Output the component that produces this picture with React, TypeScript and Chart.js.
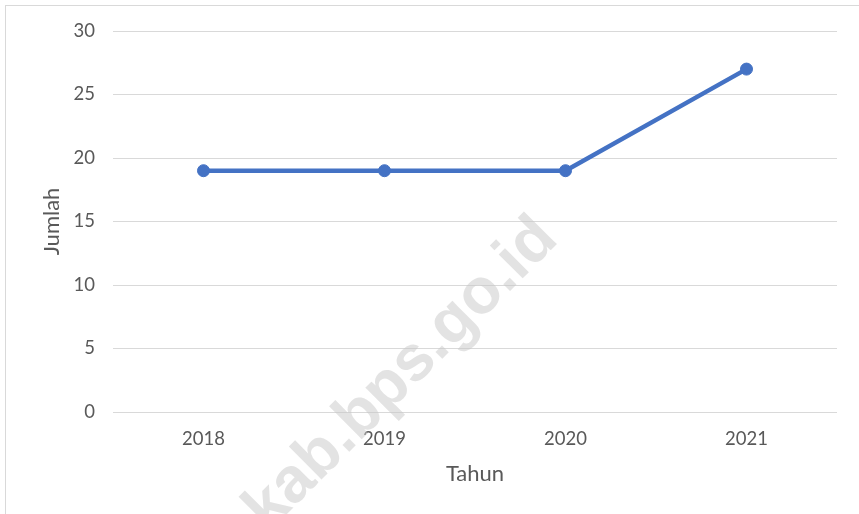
import React, { useEffect, useRef } from "react";
import { Chart, registerables } from "chart.js";

Chart.register(...registerables);

const categories = ["2018", "2019", "2020", "2021"];
const jumlahValues = [19, 19, 19, 27];
const yTicks = [0, 5, 10, 15, 20, 25, 30];
const xTitle = "Tahun";
const yTitle = "Jumlah";
const watermarkText = "kab.bps.go.id";

const FONT = "Lato, 'Open Sans', sans-serif";
const TEXT_COLOR = "#595959";
const GRID_COLOR = "#d9d9d9";
const LINE_COLOR = "#4472C4";

const backgroundPlugin = {
  id: "bgBorder",
  beforeDraw(chart: any) {
    const ctx = chart.ctx;
    ctx.save();
    ctx.fillStyle = "#ffffff";
    ctx.fillRect(0, 0, chart.width, chart.height);
    ctx.strokeStyle = GRID_COLOR;
    ctx.lineWidth = 1;
    ctx.strokeRect(5.5, 5.5, chart.width + 20, chart.height + 20);
    ctx.restore();
  },
};

const watermarkPlugin = {
  id: "watermark",
  beforeDatasetsDraw(chart: any) {
    const ctx = chart.ctx;
    ctx.save();
    ctx.translate(414, 387);
    ctx.rotate(-Math.PI / 4);
    ctx.font = "bold 64px 'Liberation Sans', Arial, sans-serif";
    ctx.fillStyle = "rgba(200,200,200,0.5)";
    ctx.textAlign = "center";
    ctx.textBaseline = "alphabetic";
    ctx.fillText(watermarkText, 0, 0);
    ctx.restore();
  },
};

export default function App() {
  const canvasRef = useRef<HTMLCanvasElement | null>(null);

  useEffect(() => {
    if (!canvasRef.current) return;
    const chart = new Chart(canvasRef.current, {
      type: "line",
      data: {
        labels: categories,
        datasets: [
          {
            label: yTitle,
            data: jumlahValues,
            borderColor: LINE_COLOR,
            backgroundColor: LINE_COLOR,
            borderWidth: 4.5,
            pointRadius: 6,
            pointBorderWidth: 1,
            pointBackgroundColor: LINE_COLOR,
            pointBorderColor: LINE_COLOR,
            tension: 0,
            fill: false,
          },
        ],
      },
      options: {
        animation: false,
        responsive: false,
        devicePixelRatio: 1,
        layout: { padding: { top: 31, right: 22, left: 0, bottom: 0 } },
        plugins: {
          legend: { display: false },
          tooltip: { enabled: false },
        },
        scales: {
          x: {
            offset: true,
            grid: { display: false, drawTicks: false },
            border: { display: false },
            ticks: {
              color: TEXT_COLOR,
              font: { family: FONT, size: 18.5 },
              padding: 16,
            },
            title: {
              display: true,
              text: xTitle,
              color: TEXT_COLOR,
              font: { family: FONT, size: 22 },
              padding: { top: 0, bottom: 27 },
            },
            afterFit(scale: any) {
              scale.height = 102;
            },
          },
          y: {
            min: 0,
            max: 30,
            afterBuildTicks(scale: any) {
              scale.ticks = yTicks.map((v) => ({ value: v }));
            },
            grid: { color: GRID_COLOR, lineWidth: 1, drawTicks: false },
            border: { display: false },
            ticks: {
              color: TEXT_COLOR,
              font: { family: FONT, size: 18.5 },
              padding: 18,
            },
            title: {
              display: true,
              text: yTitle,
              color: TEXT_COLOR,
              font: { family: FONT, size: 22 },
              padding: { top: 39, bottom: 0 },
            },
            afterFit(scale: any) {
              scale.width = 113;
            },
          },
        },
      },
      plugins: [backgroundPlugin, watermarkPlugin],
    });
    return () => chart.destroy();
  }, []);

  return (
    <div style={{ position: "absolute", left: 0, top: 0, width: 859, height: 514 }}>
      <canvas ref={canvasRef} width={859} height={514} style={{ display: "block" }} />
    </div>
  );
}
